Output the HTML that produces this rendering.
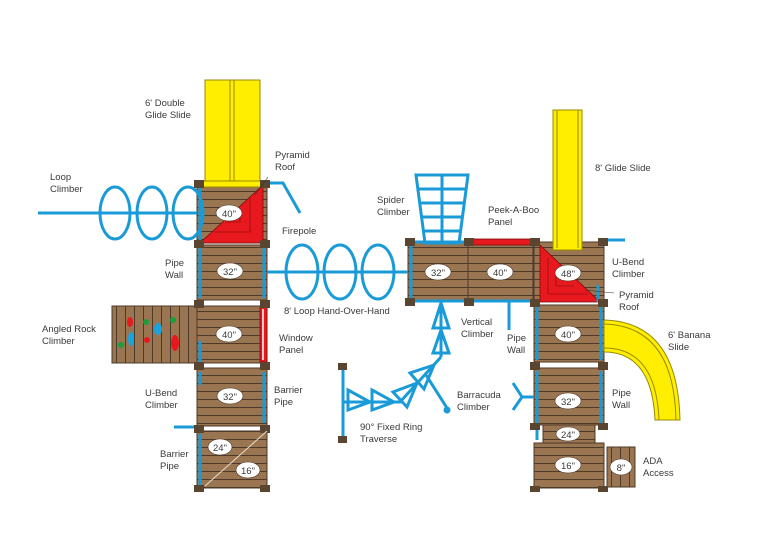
<!DOCTYPE html>
<html><head><meta charset="utf-8"><style>body{margin:0;background:#fff}svg{display:block}text{font-family:"Liberation Sans",sans-serif;font-size:9.5px;fill:#3a3a3a}</style></head><body>
<svg width="768" height="548" viewBox="0 0 768 548" xmlns="http://www.w3.org/2000/svg">
<defs>
<pattern id="wh" width="10" height="8" patternUnits="userSpaceOnUse"><rect width="10" height="8" fill="#9a7552"/><rect y="7" width="10" height="1" fill="#4e3a28"/></pattern>
<pattern id="wv" width="9" height="10" patternUnits="userSpaceOnUse"><rect width="9" height="10" fill="#9a7552"/><rect x="8" width="1" height="10" fill="#4e3a28"/></pattern>
</defs>
<g stroke="#4e3a28" stroke-width="1">
<rect x="197" y="183" width="70" height="60" fill="url(#wh)"/>
<rect x="197" y="245" width="70" height="55" fill="url(#wh)"/>
<rect x="197" y="306" width="70" height="57" fill="url(#wh)"/>
<rect x="197" y="368" width="70" height="58" fill="url(#wh)"/>
<rect x="197" y="431" width="70" height="57" fill="url(#wh)"/>
<rect x="112" y="306" width="85" height="57" fill="url(#wv)"/>
<rect x="408" y="242" width="60" height="59" fill="url(#wh)"/>
<rect x="468" y="242" width="65" height="59" fill="url(#wh)"/>
<rect x="534" y="242" width="70" height="59" fill="url(#wh)"/>
<rect x="534" y="305" width="70" height="57" fill="url(#wh)"/>
<rect x="534" y="368" width="70" height="57" fill="url(#wh)"/>
<rect x="543" y="425" width="52" height="18" fill="url(#wh)"/>
<rect x="534" y="443" width="70" height="45" fill="url(#wh)"/>
<rect x="607" y="447" width="28" height="40" fill="url(#wv)"/>
</g>
<g stroke="#9a8a00" stroke-width="1" fill="#ffee00">
<rect x="205" y="80" width="55" height="106"/>
<line x1="230" y1="80" x2="230" y2="186"/><line x1="234" y1="80" x2="234" y2="186"/>
<rect x="203" y="181" width="59" height="6"/>
<rect x="553" y="110" width="29" height="140"/>
<line x1="557" y1="110" x2="557" y2="248"/><line x1="578" y1="110" x2="578" y2="248"/>
<path d="M604 320 Q678 322 680 420 L655 420 Q652 352 604 352 Z"/>
<path d="M604 324 Q674 326 676 420 M659 420 Q656 348 604 348" fill="none"/>
</g>
<g fill="#e8191e" stroke="#7a0a0a" stroke-width="0.8">
<path d="M263 185 L263 243 L200 243 Z"/>
<path d="M540 245 L540 302 L600 302 Z"/>
<rect x="470" y="239" width="64" height="6"/>
<rect x="260" y="307" width="7" height="55"/>
</g>
<g stroke="#7a0a0a" stroke-width="0.6" fill="none">
<path d="M250 198 L250 232 L214 232 M240 208 L240 222 L226 222"/>
<path d="M548 258 L548 294 L588 294 M556 270 L556 286 L574 286"/>
</g>
<line x1="263" y1="309" x2="263" y2="360" stroke="#fff" stroke-width="1.5"/>
<g><ellipse cx="130" cy="322" rx="3" ry="5" fill="#e8191e"/><ellipse cx="131" cy="339" rx="3" ry="7" fill="#1aa3dd"/><circle cx="121" cy="345" r="3" fill="#1a9e3a"/><circle cx="146" cy="322" r="3" fill="#1a9e3a"/><ellipse cx="158" cy="329" rx="4" ry="6" fill="#1aa3dd"/><circle cx="147" cy="340" r="3" fill="#e8191e"/><circle cx="173" cy="320" r="3" fill="#1a9e3a"/><ellipse cx="175" cy="343" rx="4" ry="8" fill="#e8191e"/></g>
<g stroke="#1a9bd7" stroke-width="3" fill="none">
<line x1="38" y1="213" x2="197" y2="213"/>
<ellipse cx="115" cy="213" rx="15" ry="26"/><ellipse cx="152" cy="213" rx="15" ry="26"/><ellipse cx="188" cy="213" rx="15" ry="26"/>
<path d="M267 183 L283 183 L300 213"/>
<line x1="200" y1="187" x2="200" y2="240"/>
<line x1="200" y1="248" x2="200" y2="298"/><line x1="264" y1="248" x2="264" y2="298"/>
<line x1="267" y1="272" x2="408" y2="272"/>
<ellipse cx="302" cy="272" rx="16" ry="27"/><ellipse cx="340" cy="272" rx="16" ry="27"/><ellipse cx="378" cy="272" rx="16" ry="27"/>
<line x1="200" y1="341" x2="200" y2="362"/>
<line x1="200" y1="372" x2="200" y2="385"/><line x1="264" y1="372" x2="264" y2="423"/>
<line x1="174" y1="427" x2="195" y2="427"/>
<line x1="200" y1="434" x2="200" y2="485"/>
<line x1="411" y1="245" x2="411" y2="298"/>
<line x1="410" y1="242" x2="470" y2="242"/><line x1="410" y1="301" x2="533" y2="301"/>
<line x1="604" y1="240" x2="625" y2="240"/>
<path d="M416 175 L468 175 L459 243 L425 243 Z"/>
<line x1="442" y1="175" x2="442" y2="243"/>
<line x1="418" y1="189" x2="466" y2="189"/><line x1="420" y1="203" x2="464" y2="203"/><line x1="421" y1="217" x2="462" y2="217"/><line x1="423" y1="231" x2="461" y2="231"/>
<line x1="509" y1="301" x2="509" y2="330"/>
<line x1="537" y1="304" x2="537" y2="360"/><line x1="601" y1="304" x2="601" y2="360"/>
<line x1="537" y1="371" x2="537" y2="440"/><line x1="601" y1="371" x2="601" y2="423"/>
<line x1="598" y1="285" x2="598" y2="302"/>
<path d="M513 383 L522 397 L513 410 M522 397 L534 397"/>
<line x1="441" y1="301" x2="441" y2="357"/>
<path d="M441 303 L433 328 L449 328 Z M441 330 L433 353 L449 353 Z"/>
<path d="M441 357 L400 402 L343 402"/>
<path d="M343 365 L343 440"/>
<path d="M348 390 L370 402 L348 410 Z M372 390 L394 402 L372 410 Z"/>
<path d="M434 365 L410 373 L424 389 Z M417 383 L393 392 L407 407 Z"/>
<line x1="426" y1="375" x2="447" y2="408"/>
</g>
<circle cx="447" cy="410" r="3.5" fill="#1a9bd7"/>
<g fill="#5a4530">
<rect x="194" y="180" width="10" height="8"/><rect x="260" y="180" width="10" height="8"/>
<rect x="194" y="240" width="10" height="8"/><rect x="260" y="240" width="10" height="8"/>
<rect x="194" y="300" width="10" height="8"/><rect x="260" y="300" width="10" height="8"/>
<rect x="194" y="362" width="10" height="8"/><rect x="260" y="362" width="10" height="8"/>
<rect x="194" y="425" width="10" height="8"/><rect x="260" y="425" width="10" height="8"/>
<rect x="194" y="485" width="10" height="7"/><rect x="260" y="485" width="10" height="7"/>
<rect x="405" y="238" width="10" height="8"/><rect x="464" y="238" width="10" height="8"/>
<rect x="405" y="298" width="10" height="8"/><rect x="464" y="298" width="10" height="8"/>
<rect x="530" y="238" width="10" height="8"/><rect x="598" y="238" width="10" height="8"/>
<rect x="530" y="299" width="10" height="8"/><rect x="598" y="299" width="10" height="8"/>
<rect x="530" y="362" width="10" height="8"/><rect x="598" y="362" width="10" height="8"/>
<rect x="530" y="423" width="10" height="7"/><rect x="598" y="423" width="10" height="7"/>
<rect x="530" y="486" width="10" height="6"/><rect x="598" y="486" width="10" height="6"/>
<rect x="338" y="363" width="9" height="7"/><rect x="338" y="436" width="9" height="7"/>
</g>
<line x1="267" y1="431" x2="205" y2="486" stroke="#e8dcc8" stroke-width="1"/>
<g fill="#fff" stroke="#4e3a28" stroke-width="0.6">
<ellipse cx="229" cy="213" rx="13" ry="8"/><ellipse cx="230" cy="271" rx="13" ry="8"/><ellipse cx="229" cy="334" rx="13" ry="8"/><ellipse cx="230" cy="396" rx="13" ry="8"/><ellipse cx="220" cy="447" rx="12" ry="8"/><ellipse cx="248" cy="470" rx="12" ry="8"/>
<ellipse cx="438" cy="272" rx="13" ry="8"/><ellipse cx="500" cy="272" rx="13" ry="8"/><ellipse cx="568" cy="273" rx="13" ry="8"/><ellipse cx="568" cy="334" rx="13" ry="8"/><ellipse cx="568" cy="401" rx="13" ry="8"/><ellipse cx="568" cy="434" rx="12" ry="7"/><ellipse cx="568" cy="465" rx="13" ry="8"/><ellipse cx="621" cy="467" rx="11" ry="8"/>
</g>
<g style="font-size:10px" text-anchor="middle" fill="#333">
<text x="229" y="217">40"</text><text x="230" y="275">32"</text><text x="229" y="338">40"</text><text x="230" y="400">32"</text><text x="220" y="451">24"</text><text x="248" y="474">16"</text>
<text x="438" y="276">32"</text><text x="500" y="276">40"</text><text x="568" y="277">48"</text><text x="568" y="338">40"</text><text x="568" y="405">32"</text><text x="568" y="438">24"</text><text x="568" y="469">16"</text><text x="621" y="471">8"</text>
</g>
<g stroke="#333" stroke-width="0.6"><line x1="268" y1="177" x2="255" y2="195"/><line x1="614" y1="293" x2="585" y2="290"/></g>
<text x="145" y="106">6' Double</text><text x="145" y="118">Glide Slide</text>
<text x="275" y="158">Pyramid</text><text x="275" y="170">Roof</text>
<text x="50" y="180">Loop</text><text x="50" y="192">Climber</text>
<text x="282" y="234">Firepole</text>
<text x="165" y="266">Pipe</text><text x="165" y="278">Wall</text>
<text x="284" y="314">8' Loop Hand-Over-Hand</text>
<text x="42" y="332">Angled Rock</text><text x="42" y="344">Climber</text>
<text x="279" y="341">Window</text><text x="279" y="353">Panel</text>
<text x="145" y="396">U-Bend</text><text x="145" y="408">Climber</text>
<text x="274" y="393">Barrier</text><text x="274" y="405">Pipe</text>
<text x="160" y="457">Barrier</text><text x="160" y="469">Pipe</text>
<text x="377" y="203">Spider</text><text x="377" y="215">Climber</text>
<text x="488" y="213">Peek-A-Boo</text><text x="488" y="225">Panel</text>
<text x="595" y="171">8' Glide Slide</text>
<text x="612" y="265">U-Bend</text><text x="612" y="277">Climber</text>
<text x="619" y="298">Pyramid</text><text x="619" y="310">Roof</text>
<text x="461" y="325">Vertical</text><text x="461" y="337">Climber</text>
<text x="507" y="341">Pipe</text><text x="507" y="353">Wall</text>
<text x="668" y="338">6' Banana</text><text x="668" y="350">Slide</text>
<text x="457" y="398">Barracuda</text><text x="457" y="410">Climber</text>
<text x="612" y="396">Pipe</text><text x="612" y="408">Wall</text>
<text x="360" y="430">90° Fixed Ring</text><text x="360" y="442">Traverse</text>
<text x="643" y="464">ADA</text><text x="643" y="476">Access</text>
</svg>
</body></html>
